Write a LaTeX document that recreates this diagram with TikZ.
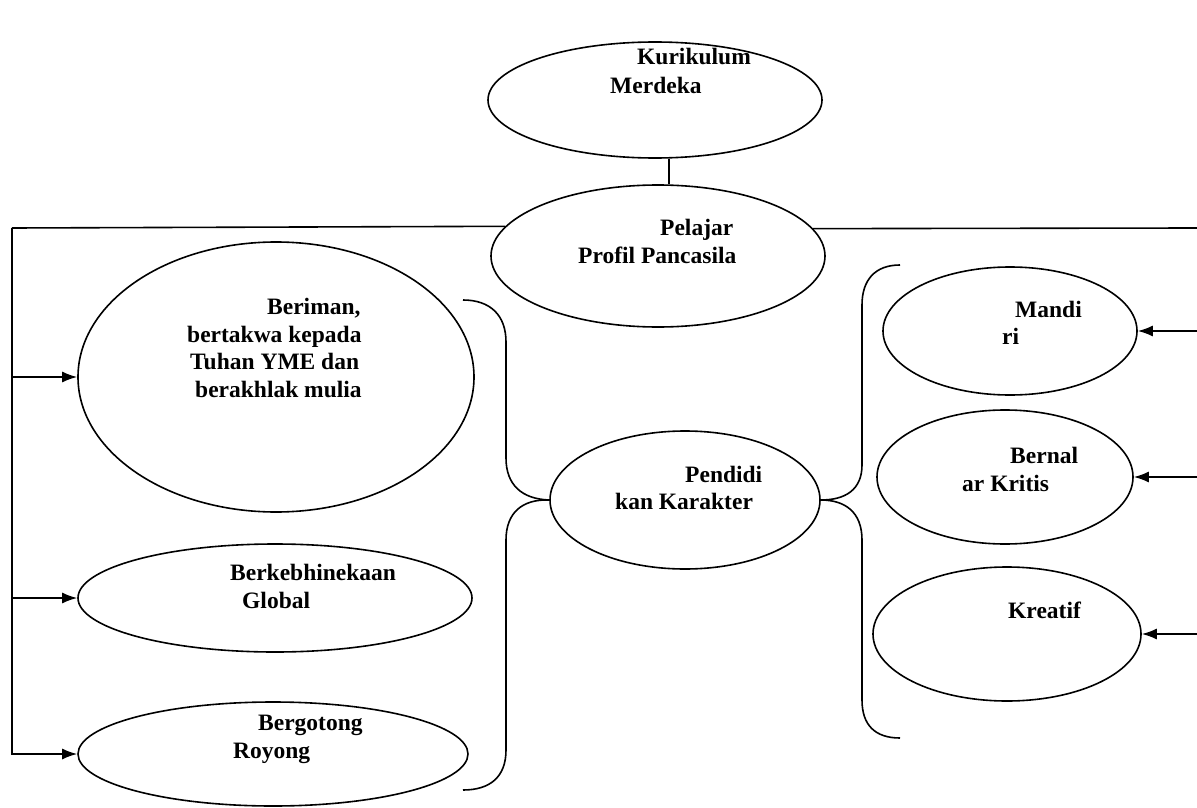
\documentclass[tikz,border=0pt]{standalone}
\usepackage{fontspec}
\setmainfont{Liberation Serif}[Ligatures=NoCommon]
\usetikzlibrary{shapes.geometric,arrows.meta}
\begin{document}
\begin{tikzpicture}[x=1pt,y=-1pt,
  ell/.style={draw,ellipse,line width=1.6pt,inner sep=0pt},
  txt/.style={anchor=base west,inner sep=0pt,font=\fontsize{23.5}{27.3}\selectfont\bfseries},
  conn/.style={line width=1.6pt},
  arr/.style={line width=1.6pt,-{Latex[length=15pt,width=11pt]}}]
\useasboundingbox (0,0) rectangle (1197,808);
% ellipses
\node[ell,minimum width=334pt,minimum height=116pt] (kur) at (655,100) {};
\node[ell,minimum width=334pt,minimum height=142pt] (pel) at (658,256) {};
\node[ell,minimum width=396pt,minimum height=270pt] (ber) at (276,377) {};
\node[ell,minimum width=394pt,minimum height=108pt] (glo) at (275,598) {};
\node[ell,minimum width=390pt,minimum height=104pt] (gro) at (273,754) {};
\node[ell,minimum width=270pt,minimum height=138pt] (pen) at (685,500) {};
\node[ell,minimum width=254pt,minimum height=128pt] (man) at (1010,331) {};
\node[ell,minimum width=256pt,minimum height=134pt] (bnl) at (1005,477) {};
\node[ell,minimum width=268pt,minimum height=134pt] (kre) at (1007,634) {};
% texts
\node[txt] (t1a) at (637,65) {Kurikulum};
\node[txt] (t1b) at (610,93) {Merdeka};
\node[txt] (t2a) at (660,235) {Pelajar};
\node[txt] (t2b) at (578,263) {Profil Pancasila};
\node[txt] (t3a) at (267,314) {Beriman,};
\node[txt] (t3b) at (187,342) {bertakwa kepada};
\node[txt] (t3c) at (190,369) {Tuhan YME dan};
\node[txt] (t3d) at (195,397) {berakhlak mulia};
\node[txt] (t4a) at (230,580) {Berkebhinekaan};
\node[txt] (t4b) at (242,608) {Global};
\node[txt] (t5a) at (258,730) {Bergotong};
\node[txt] (t5b) at (233,758) {Royong};
\node[txt] (t6a) at (685,482) {Pendidi};
\node[txt] (t6b) at (615,509) {kan Karakter};
\node[txt] (t7a) at (1015,317) {Mandi};
\node[txt] (t7b) at (1002,344) {ri};
\node[txt] (t8a) at (1010,463) {Bernal};
\node[txt] (t8b) at (962,491) {ar Kritis};
\node[txt] (t9a) at (1008,618) {Kreatif};
% frame coordinates
\coordinate (tl) at (12,228);
\coordinate (tr) at (1197,228);
\coordinate (lb1) at (463,300);
\coordinate (lb2) at (463,790);
\coordinate (rb1) at (900,265);
\coordinate (rb2) at (900,738);
% connectors
\draw[conn] ([xshift=14pt]kur.south) -- ([xshift=11pt]pel.north);
\draw[conn] (pel.169.66) -- (tl);
\draw[conn] (pel.10.34) -- (tr);
\draw[arr] (tl) |- (gro.west);
\draw[arr] (tl |- ber.west) -- (ber.west);
\draw[arr] (tl |- glo.west) -- (glo.west);
\draw[arr] (tr |- man.east) -- (man.east);
\draw[arr] (tr |- bnl.east) -- (bnl.east);
\draw[arr] (tr |- kre.east) -- (kre.east);
% braces
\draw[conn] (lb1) .. controls (490,300) and (506,315) .. (506,342) -- (506,458)
  .. controls (506,485) and (522,499) .. (pen.west);
\draw[conn] (pen.west) .. controls (522,499) and (506,513) .. (506,540) -- (506,750)
  .. controls (506,777) and (490,790) .. (lb2);
\draw[conn] (rb1) .. controls (875,265) and (862,280) .. (862,305) -- (862,465)
  .. controls (862,490) and (845,500) .. (pen.east);
\draw[conn] (pen.east) .. controls (845,500) and (862,512) .. (862,540) -- (862,700)
  .. controls (862,725) and (875,738) .. (rb2);
\end{tikzpicture}
\end{document}
